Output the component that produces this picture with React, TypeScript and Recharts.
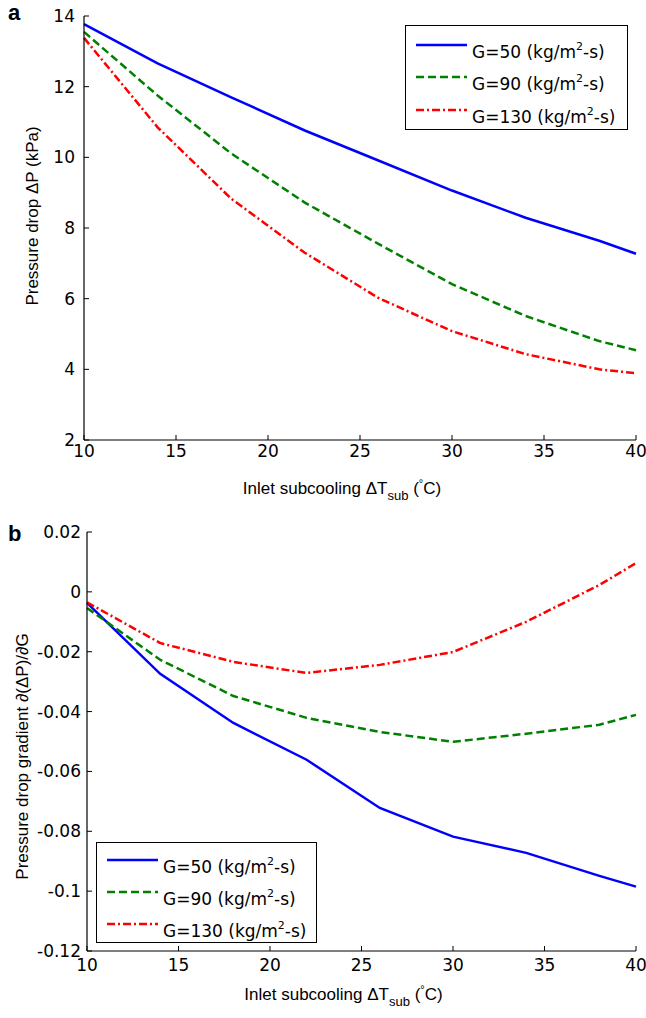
import React from 'react';
import { LineChart, Line, XAxis, YAxis, Legend } from 'recharts';

// inlet subcooling (°C) at which the model was evaluated
const subcooling = [10, 14, 18, 22, 26, 30, 34, 38, 40];

// panel a: pressure drop (kPa)
const dropG50 = [13.77, 12.66, 11.7, 10.76, 9.91, 9.06, 8.29, 7.64, 7.27];
const dropG90 = [13.55, 11.75, 10.11, 8.72, 7.55, 6.41, 5.51, 4.8, 4.54];
const dropG130 = [13.38, 10.85, 8.83, 7.3, 6.02, 5.08, 4.43, 4.0, 3.89];

// panel b: pressure drop gradient d(dP)/dG
const gradG50 = [-0.0037, -0.0274, -0.0438, -0.0561, -0.0722, -0.0818, -0.0872, -0.0949, -0.0985];
const gradG90 = [-0.0054, -0.0227, -0.0348, -0.0421, -0.0468, -0.0501, -0.0474, -0.0444, -0.0411];
const gradG130 = [-0.0035, -0.0171, -0.0234, -0.0271, -0.0244, -0.0201, -0.01, 0.0023, 0.0096];

const xTicks = [10, 15, 20, 25, 30, 35, 40];
const dropTicks = [2, 4, 6, 8, 10, 12, 14];
const gradTicks = [0.02, 0, -0.02, -0.04, -0.06, -0.08, -0.1, -0.12];
const fluxLabels = ['G=50', 'G=90', 'G=130'];

const FONT = '"Liberation Sans", Arial, Helvetica, sans-serif';
const WIDE = '"DejaVu Sans", Verdana, sans-serif';

const series = [
  { key: 'g50', color: '#0000ff', dash: undefined as string | undefined },
  { key: 'g90', color: '#008000', dash: '8 4' },
  { key: 'g130', color: '#ff0000', dash: '8 3 2 3' },
];

const dropData = subcooling.map((t, i) => ({ t, g50: dropG50[i], g90: dropG90[i], g130: dropG130[i] }));
const gradData = subcooling.map((t, i) => ({ t, g50: gradG50[i], g90: gradG90[i], g130: gradG130[i] }));

const tickStyle = { fontSize: 17, fill: '#000', fontFamily: WIDE };

function XLabel({ viewBox, offsetY }: any) {
  const cx = viewBox.x + viewBox.width / 2 - 18;
  const y = viewBox.y + offsetY;
  return (
    <text x={cx} y={y} textAnchor="middle" fontSize={17} fontFamily={FONT} fill="#000">
      <tspan>Inlet subcooling ΔT</tspan>
      <tspan fontSize={13} dy={6}>sub</tspan>
      <tspan dy={-6}> (</tspan>
      <tspan fontSize={11} dy={-7}>°</tspan>
      <tspan dy={7}>C)</tspan>
    </text>
  );
}

function YLabel({ viewBox, text, baseX, shift }: any) {
  const cy = viewBox.y + viewBox.height / 2 + shift;
  return (
    <text x={baseX} y={cy} transform={`rotate(-90 ${baseX} ${cy})`} textAnchor="middle" fontSize={17} fontFamily={FONT} fill="#000">
      {text}
    </text>
  );
}

function LegendBox({ w, h, rows }: any) {
  return (
    <svg width={w} height={h} style={{ display: 'block' }}>
      <rect x={0.5} y={0.5} width={w - 1} height={h - 1} fill="#fff" stroke="#000" strokeWidth={1} />
      {series.map((s, i) => {
        const ly = rows[i];
        return (
          <g key={s.key}>
            <line x1={11} x2={62} y1={ly} y2={ly} stroke={s.color} strokeWidth={2.5} strokeDasharray={s.dash} />
            <text x={67} y={ly + 13} fontSize={17} fontFamily={WIDE} fill="#000">
              <tspan>{fluxLabels[i]} (kg/m</tspan>
              <tspan fontSize={11} dy={-8}>2</tspan>
              <tspan dy={8}>-s)</tspan>
            </text>
          </g>
        );
      })}
    </svg>
  );
}

function Panel({ data, top, height, marginTop, yWidth, xHeight, domain, yTicks, yTickMargin, xTickMargin, xLabelDy, yLabel, yLabelX, yLabelShift, legend }: any) {
  return (
    <div style={{ position: 'absolute', left: 0, top }}>
      <LineChart width={646} height={height} data={data} margin={{ top: marginTop, right: 10, left: 0, bottom: 0 }}>
        <XAxis
          dataKey="t"
          type="number"
          domain={[10, 40]}
          ticks={xTicks}
          height={xHeight}
          tickSize={-5}
          tickMargin={xTickMargin}
          tick={tickStyle}
          axisLine={{ stroke: '#000', strokeWidth: 1.2 }}
          tickLine={{ stroke: '#000' }}
          label={<XLabel offsetY={xLabelDy} />}
        />
        <XAxis
          xAxisId="top"
          orientation="top"
          dataKey="t"
          type="number"
          domain={[10, 40]}
          ticks={xTicks}
          height={0}
          tickSize={-5}
          tick={false}
          axisLine={{ stroke: '#000', strokeWidth: 1.2 }}
          tickLine={{ stroke: '#000' }}
        />
        <YAxis
          type="number"
          domain={domain}
          ticks={yTicks}
          width={yWidth}
          tickSize={-5}
          tickMargin={yTickMargin}
          tick={tickStyle}
          allowDataOverflow
          axisLine={{ stroke: '#000', strokeWidth: 1.2 }}
          tickLine={{ stroke: '#000' }}
          label={<YLabel text={yLabel} baseX={yLabelX} shift={yLabelShift} />}
        />
        <YAxis
          yAxisId="right"
          orientation="right"
          type="number"
          domain={domain}
          ticks={yTicks}
          width={0}
          tickSize={-5}
          tick={false}
          allowDataOverflow
          axisLine={{ stroke: '#000', strokeWidth: 1.2 }}
          tickLine={{ stroke: '#000' }}
        />
        <Legend
          layout="vertical"
          align="center"
          verticalAlign="middle"
          wrapperStyle={{ position: 'absolute', left: legend.x, top: legend.y, width: legend.w, height: legend.h }}
          content={() => <LegendBox w={legend.w} h={legend.h} rows={legend.rows} />}
        />
        {series.map((s, i) => (
          <Line
            key={s.key}
            dataKey={s.key}
            name={fluxLabels[i]}
            stroke={s.color}
            strokeWidth={2.5}
            strokeDasharray={s.dash}
            dot={false}
            activeDot={false}
            isAnimationActive={false}
            type="linear"
          />
        ))}
      </LineChart>
    </div>
  );
}

export default function App() {
  return (
    <div style={{ position: 'absolute', left: 0, top: 0, width: 646, height: 1018, background: '#fff', fontFamily: FONT }}>
      <Panel
        data={dropData}
        top={0}
        height={512}
        marginTop={16}
        yWidth={84}
        xHeight={72}
        domain={[2, 14]}
        yTicks={dropTicks}
        yTickMargin={14}
        xTickMargin={10}
        xLabelDy={54}
        yLabel="Pressure drop ΔP (kPa)"
        yLabelX={38}
        yLabelShift={-12}
        legend={{ x: 405, y: 25, w: 223, h: 105, rows: [20, 52, 85] }}
      />
      <Panel
        data={gradData}
        top={500}
        height={518}
        marginTop={32}
        yWidth={87}
        xHeight={67}
        domain={[-0.12, 0.02]}
        yTicks={gradTicks}
        yTickMargin={11}
        xTickMargin={13}
        xLabelDy={49}
        yLabel="Pressure drop gradient ∂(ΔP)/∂G"
        yLabelX={28}
        yLabelShift={15}
        legend={{ x: 96, y: 342, w: 221, h: 101, rows: [18, 50, 82] }}
      />
      <div style={{ position: 'absolute', left: 8, top: 0, fontSize: 22, fontWeight: 'bold', fontFamily: FONT }}>a</div>
      <div style={{ position: 'absolute', left: 8, top: 521, fontSize: 22, fontWeight: 'bold', fontFamily: FONT }}>b</div>
    </div>
  );
}
